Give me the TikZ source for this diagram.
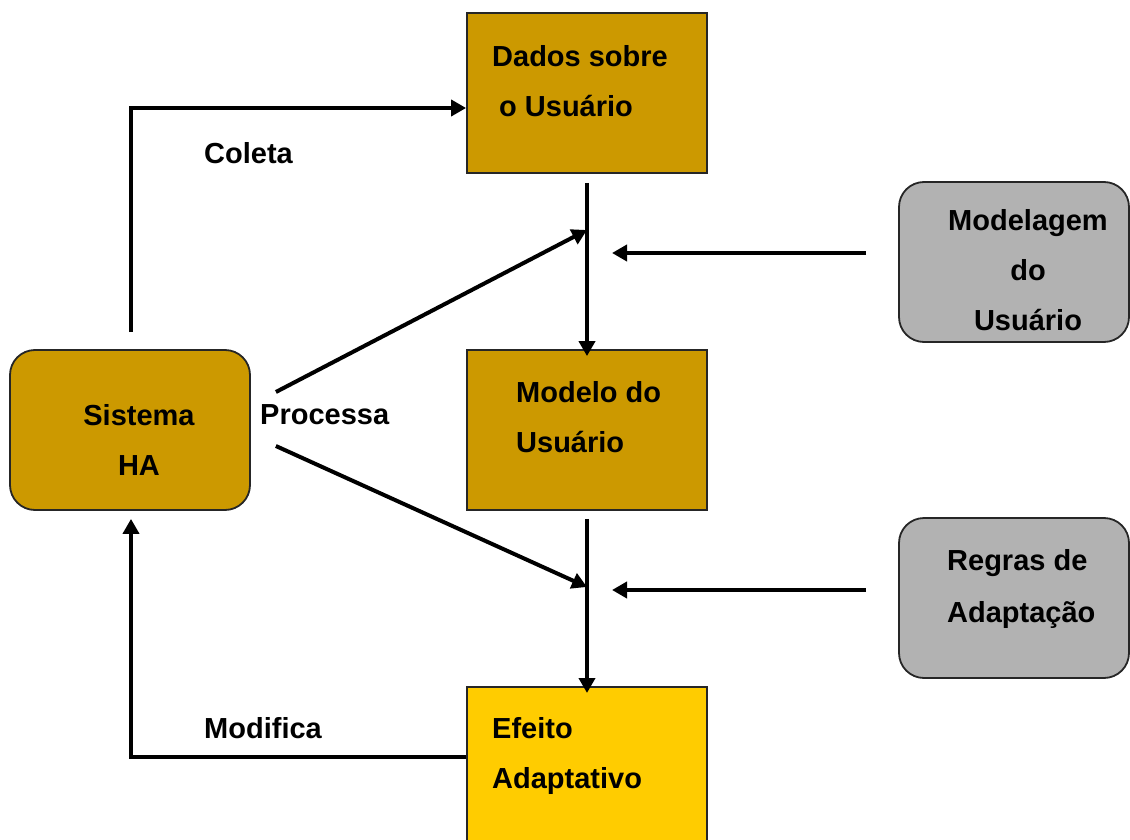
\documentclass[tikz,border=0pt]{standalone}
\usepackage{fontspec}
\setmainfont{Liberation Sans}
\usetikzlibrary{arrows.meta,calc}

\definecolor{gold}{HTML}{CC9900}
\definecolor{sun}{HTML}{FFCC00}
\definecolor{stone}{HTML}{B2B2B2}

\begin{document}
\begin{tikzpicture}[x=1pt,y=-1pt,
  box/.style={draw=black!85, line width=1.8pt, minimum width=240pt, minimum height=160pt, inner sep=0pt},
  rbox/.style={box, rounded corners=25pt},
  txt/.style={font=\fontsize{29}{50}\selectfont\bfseries, inner sep=0pt},
  conn/.style={line width=4pt, -{Triangle[length=15pt,width=16pt]}}]
\useasboundingbox (0,0) rectangle (1130,840);

% boxes
\node[box, fill=gold] (dados) at (587,93) {};
\node[box, fill=gold] (modelo) at (587,430) {};
\node[box, fill=sun, minimum height=180pt, anchor=north] (efeito) at (587,686) {};
\node[rbox, fill=gold] (sistema) at (130,430) {};
\node[rbox, fill=stone, minimum width=230pt] (modelagem) at (1014,262) {};
\node[rbox, fill=stone, minimum width=230pt] (regras) at (1014,598) {};

% box texts
\node[txt, anchor=north west, align=left] (tdados) at (492,45) {Dados sobre\\\hspace*{7pt}o Usuário};
\node[txt, anchor=north west, align=left] (tmodelo) at (516,381) {Modelo do\\Usuário};
\node[txt, anchor=north west, align=left] (tefeito) at (492,717) {Efeito\\Adaptativo};
\node[txt, align=center] (tsistema) at (139,440) {Sistema\\HA};
\node[txt, align=center] (tmodelagem) at (1028,270) {Modelagem\\do\\Usuário};
\node[txt, anchor=north west, align=left, font=\fontsize{29}{52}\selectfont\bfseries] (tregras) at (947,549) {Regras de\\Adaptação};

% connector labels
\node[txt, anchor=west] (lcoleta) at (204,153) {Coleta};
\node[txt, anchor=west] (lprocessa) at (260,415) {Processa};
\node[txt, anchor=west] (lmodifica) at (204,728) {Modifica};

% junction points on the vertical flows
\coordinate (j1) at (587,230);
\coordinate (j2) at (587,587);

% main flow
\draw[conn] (dados.south) ++(0,9) -- ($(modelo.north)+(0,7)$);
\draw[conn] (modelo.south) ++(0,8) -- ($(efeito.north)+(0,7)$);

% processing inputs
\draw[conn] ($(sistema.east)+(25,-38)$) -- (j1);
\draw[conn] ($(sistema.east)+(25,16)$) -- (j2);
\draw[conn] ($(modelagem.west)+(-32,-9)$) -- ($(j1)+(25,23)$);
\draw[conn] ($(regras.west)+(-32,-8)$) -- ($(j2)+(25,3)$);

% collection and modification loops
\draw[conn] ($(sistema.north)+(1,-17)$) |- ($(dados.west)+(0,15)$);
\draw[conn] ($(efeito.north west)+(0,71)$) -| ($(sistema.south)+(1,8)$);
\end{tikzpicture}
\end{document}
